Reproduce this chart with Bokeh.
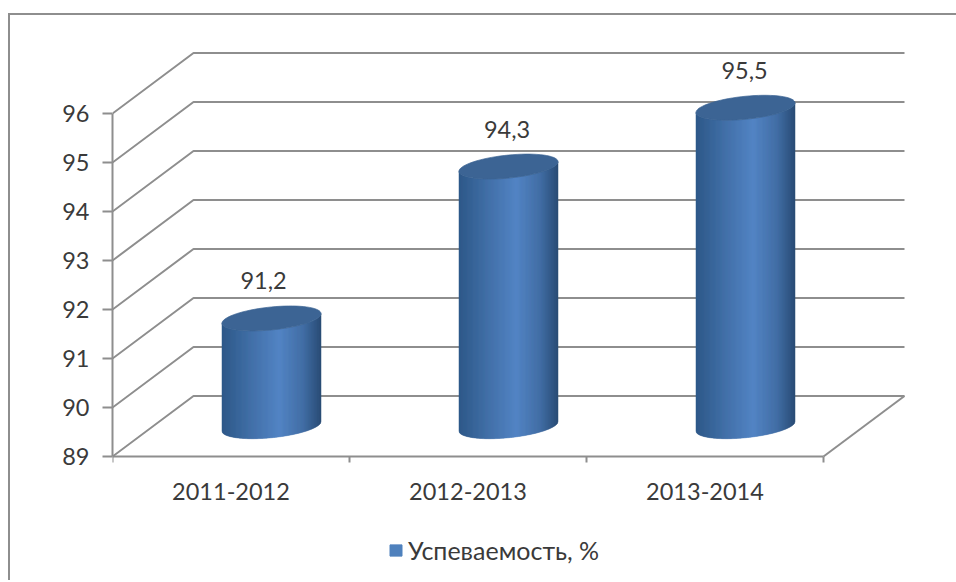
import math
from bokeh.plotting import figure
from bokeh.models import (Range1d, LinearAxis, FixedTicker, Legend, LegendItem,
                          ColumnDataSource)
from bokeh.core.properties import value as fv
from bokeh.embed import file_html
from bokeh.resources import INLINE

categories = ["2011-2012", "2012-2013", "2013-2014"]
values = [91.2, 94.3, 95.5]
labels = ["91,2", "94,3", "95,5"]
y_ticks = [89, 90, 91, 92, 93, 94, 95, 96]
legend_label = "Успеваемость, %"

FONT = "Lato"
TXT = "#3a3a3a"
GRID = "#8e8e8e"
PX_X, PX_Y = 237.0, 49.0      # pixels per category / per value unit
DEPTH_X, DEPTH_Y = 81 / PX_X, 60.5 / PX_Y
RX, RY, SLANT = 49.5 / PX_X, 11.5 / PX_Y, 4.8 / PX_Y
STRIPS = 99
STOPS = [(0.0, (46, 88, 136)), (0.30, (66, 112, 168)), (0.58, (82, 132, 196)),
         (0.82, (66, 110, 165)), (1.0, (42, 76, 118))]
TOP_COLOR = "#3c6494"
LABEL_DX = [-8.0 / PX_X, -1.5 / PX_X, -1.0 / PX_X]

FRAME_W, FRAME_H, BELOW_ZERO = 803, 550, 124
p = figure(frame_width=FRAME_W, frame_height=FRAME_H, output_backend="svg", toolbar_location=None,
           x_range=Range1d(0, FRAME_W / PX_X),
           y_range=Range1d(89 - BELOW_ZERO / PX_Y, 89 + (FRAME_H - BELOW_ZERO) / PX_Y),
           x_axis_type=None, y_axis_type=None,
           min_border_left=102, min_border_top=15, min_border_right=41, min_border_bottom=0)
p.grid.visible = False
p.outline_line_color = None
p.background_fill_color = "white"
p.border_fill_color = "white"
p.styles = {"margin-left": "8px", "margin-top": "13px",
            "border-left": f"2px solid {GRID}", "border-top": f"2px solid {GRID}"}

yax = LinearAxis(ticker=FixedTicker(ticks=y_ticks), bounds=(89, 96))
xax = LinearAxis(ticker=FixedTicker(ticks=[i + 0.5 for i in range(len(categories))],
                                    minor_ticks=list(range(len(categories) + 1))),
                 major_label_overrides={i + 0.5: c for i, c in enumerate(categories)},
                 bounds=(0, len(categories)), fixed_location=89)
for ax in (xax, yax):
    ax.axis_line_color = GRID
    ax.axis_line_width = 2
    ax.major_tick_line_color = GRID
    ax.major_tick_line_width = 2
    ax.minor_tick_line_color = GRID
    ax.minor_tick_line_width = 2
    ax.major_tick_in = 0
    ax.minor_tick_in = 0
    ax.major_label_text_font = FONT
    ax.major_label_text_font_size = "23.5px"
    ax.major_label_text_color = TXT
yax.major_tick_out = 10
yax.minor_tick_out = 0
yax.major_label_standoff = 13
xax.major_tick_out = 0
xax.minor_tick_out = 6
xax.major_label_standoff = 20
p.add_layout(yax, "left")
p.add_layout(xax, "below")

# walls and floor of the 3D box
n = len(categories)
for v in y_ticks:
    b = v + DEPTH_Y
    p.line([0, DEPTH_X, n + DEPTH_X], [v, b, b], line_color=GRID, line_width=2)
p.line([n, n + DEPTH_X], [89, 89 + DEPTH_Y], line_color=GRID, line_width=2)


def mix(t):
    for (t0, c0), (t1, c1) in zip(STOPS, STOPS[1:]):
        if t <= t1:
            f = (t - t0) / (t1 - t0)
            return "#%02x%02x%02x" % tuple(round(a + (b - a) * f) for a, b in zip(c0, c1))
    return "#%02x%02x%02x" % STOPS[-1][1]


def lower(cy, u):
    return cy + SLANT * u - RY * math.sqrt(max(0.0, 1 - u * u))


xs, ys, cols = [], [], []
for i, v in enumerate(values):
    cx = i + 0.5 + DEPTH_X / 2
    top = v + DEPTH_Y / 2
    bot = 89 + DEPTH_Y / 2
    for k in range(STRIPS):
        u0 = -1 + 2 * k / STRIPS
        u1 = -1 + 2 * (k + 1) / STRIPS
        us = [u0 + (u1 - u0) * j / 2 for j in range(3)]
        sx = [cx + RX * u for u in us]
        xs.append(sx + sx[::-1])
        ys.append([lower(top, u) for u in us] + [lower(bot, u) for u in us[::-1]])
        cols.append(mix((k + 0.5) / STRIPS))
p.patches(xs, ys, fill_color=cols, line_color=cols, line_width=0.5)

tx, ty = [], []
for i, v in enumerate(values):
    cx = i + 0.5 + DEPTH_X / 2
    top = v + DEPTH_Y / 2
    ts = [2 * math.pi * j / 72 for j in range(72)]
    tx.append([cx + RX * math.cos(t) for t in ts])
    ty.append([top + RY * math.sin(t) + SLANT * math.cos(t) for t in ts])
p.patches(tx, ty, fill_color=TOP_COLOR, line_color=TOP_COLOR, line_width=0.7)

src = ColumnDataSource(dict(x=[i + 0.5 + DEPTH_X / 2 + LABEL_DX[i] for i in range(n)],
                            y=[v + DEPTH_Y / 2 + 37.5 / PX_Y for v in values], t=labels))
p.text("x", "y", text="t", source=src, text_align="center", text_baseline="middle",
       text_font=fv(FONT), text_font_size="23.5px", text_color=TXT)

nan = float("nan")
swatch = p.quad(left=[nan], right=[nan], top=[nan], bottom=[nan], fill_color="#4f81bd", line_color="#4f81bd")
leg = Legend(items=[LegendItem(label=legend_label, renderers=[swatch])],
             location=(276, 15), border_line_color=None, background_fill_alpha=0,
             label_text_font=FONT, label_text_font_size="25px", label_text_color=TXT,
             glyph_width=15, glyph_height=14, label_standoff=5, padding=0, margin=0)
p.add_layout(leg, "center")

open("out.html", "w").write(file_html(p, INLINE))
